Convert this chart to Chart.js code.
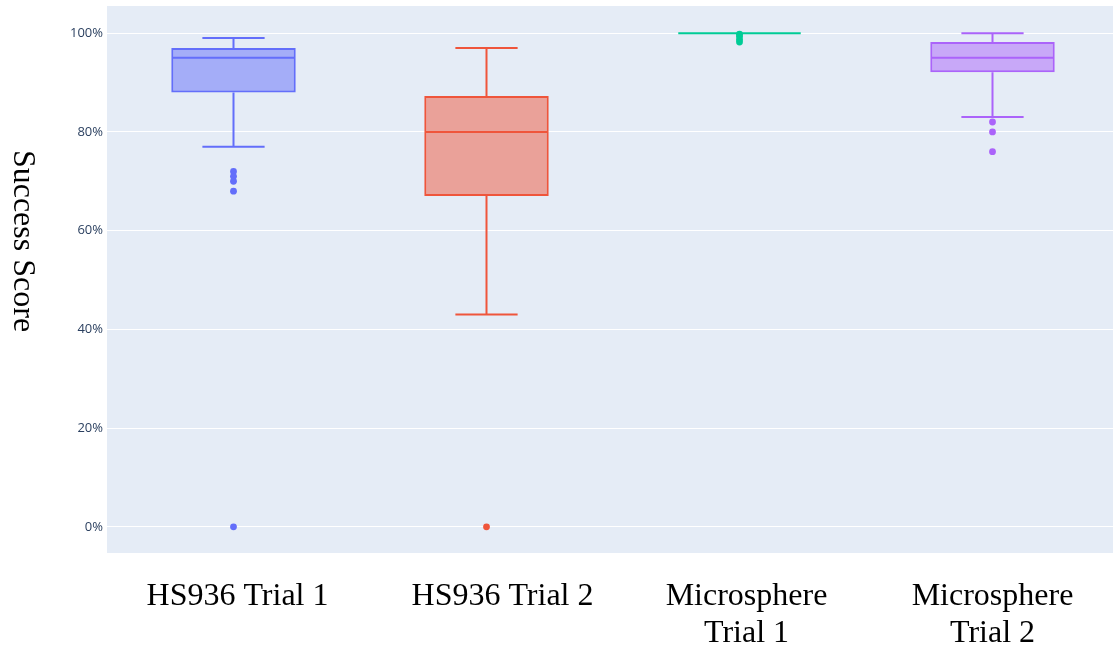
<!DOCTYPE html>
<html>
<head>
<meta charset="utf-8">
<title>Success Score by Trial</title>
<script src="https://cdn.jsdelivr.net/npm/chart.js@4/dist/chart.umd.min.js"></script>
<style>
  html, body { margin: 0; padding: 0; background: #ffffff; overflow: hidden; }
  #wrap { width: 1113px; height: 650px; overflow: hidden; }
  #chart { display: block; }
</style>
</head>
<body>
<div id="wrap"><canvas id="chart" width="1119" height="650"></canvas></div>
<script>
// Trials and their box statistics (Success Score, %)
const categories = ['HS936 Trial 1', 'HS936 Trial 2', 'Microsphere Trial 1', 'Microsphere Trial 2'];
const tickLabels = [['HS936 Trial 1'], ['HS936 Trial 2'], ['Microsphere', 'Trial 1'], ['Microsphere', 'Trial 2']];
const lowerFence = [77, 43, 100, 83];
const q1 = [88, 67, 100, 92.1];
const medians = [95, 80, 100, 95];
const q3 = [97, 87.25, 100, 98.2];
const upperFence = [99, 97, 100, 100];
const outliers = [
  [72, 71, 70, 68, 0],
  [0],
  [99.8, 99.3, 98.7, 98.2],
  [82, 80, 76]
];
const yTicks = [0, 20, 40, 60, 80, 100];
const yTitle = 'Success Score';

const lineColors = ['#636efa', '#EF553B', '#00cc96', '#ab63fa'];
const fillColors = ['rgba(99,110,250,0.5)', 'rgba(239,85,59,0.5)', 'rgba(0,204,150,0.5)', 'rgba(171,99,250,0.5)'];
// small horizontal nudges of the category captions (px)
const captionNudge = [4, 16, 7, 0];
const serifFont = '"Liberation Serif", "Times New Roman", serif';

// Plot background
const plotBackground = {
  id: 'plotBackground',
  beforeDraw(chart) {
    const { ctx, chartArea: a } = chart;
    ctx.save();
    ctx.fillStyle = '#E5ECF6';
    ctx.fillRect(a.left, a.top, a.right - a.left, a.bottom - a.top);
    ctx.restore();
  }
};

// Whiskers, caps and median lines, drawn right after the boxes
const boxDetails = {
  id: 'boxDetails',
  afterDatasetDraw(chart, args) {
    if (args.index !== 0) return;
    const { ctx } = chart;
    const x = chart.scales.x, y = chart.scales.y;
    const bars = chart.getDatasetMeta(0).data;
    ctx.save();
    ctx.lineWidth = 2;
    ctx.lineCap = 'butt';
    categories.forEach((c, i) => {
      const cx = x.getPixelForValue(i);
      const half = bars[i].width / 2;
      const capHalf = half / 2;
      ctx.strokeStyle = lineColors[i];
      ctx.beginPath();
      // upper whisker + cap
      ctx.moveTo(cx, y.getPixelForValue(q3[i]));
      ctx.lineTo(cx, y.getPixelForValue(upperFence[i]));
      ctx.moveTo(cx - capHalf, y.getPixelForValue(upperFence[i]));
      ctx.lineTo(cx + capHalf, y.getPixelForValue(upperFence[i]));
      // lower whisker + cap
      ctx.moveTo(cx, y.getPixelForValue(q1[i]));
      ctx.lineTo(cx, y.getPixelForValue(lowerFence[i]));
      ctx.moveTo(cx - capHalf, y.getPixelForValue(lowerFence[i]));
      ctx.lineTo(cx + capHalf, y.getPixelForValue(lowerFence[i]));
      // median
      ctx.moveTo(cx - half + 1, y.getPixelForValue(medians[i]));
      ctx.lineTo(cx + half - 1, y.getPixelForValue(medians[i]));
      ctx.stroke();
    });
    ctx.restore();
  }
};

// Category captions under the plot and the vertical axis title
const captions = {
  id: 'captions',
  afterDraw(chart) {
    const { ctx } = chart;
    const x = chart.scales.x;
    ctx.save();
    ctx.font = '32px ' + serifFont;
    ctx.fillStyle = '#000000';
    ctx.textAlign = 'center';
    ctx.textBaseline = 'alphabetic';
    tickLabels.forEach((lines, i) => {
      const cx = x.getPixelForValue(i) + captionNudge[i];
      lines.forEach((line, k) => {
        ctx.fillText(line, cx, x.top + 52 + k * 36.5);
      });
    });
    ctx.restore();

    ctx.save();
    ctx.translate(22, 241);
    ctx.rotate(Math.PI / 2);
    ctx.font = '32px ' + serifFont;
    ctx.fillStyle = '#000000';
    ctx.textAlign = 'center';
    ctx.textBaseline = 'middle';
    ctx.fillText(yTitle, 0, 0);
    ctx.restore();
  }
};

const outlierSets = outliers.map((vals, i) => ({
  type: 'line',
  order: 0,
  showLine: false,
  data: vals.map(v => ({ x: categories[i], y: v })),
  pointRadius: 3.4,
  pointHoverRadius: 3.4,
  pointBorderWidth: 0,
  pointBackgroundColor: lineColors[i],
  borderColor: lineColors[i]
}));

new Chart(document.getElementById('chart'), {
  type: 'bar',
  data: {
    labels: categories,
    datasets: [
      {
        order: 1,
        data: categories.map((c, i) => [q1[i], q3[i]]),
        backgroundColor: fillColors,
        borderColor: lineColors,
        borderWidth: 2,
        borderSkipped: false,
        barPercentage: 0.492,
        categoryPercentage: 1
      },
      ...outlierSets
    ]
  },
  options: {
    responsive: false,
    animation: false,
    events: [],
    layout: { autoPadding: false, padding: { top: 6, left: 0, right: 0, bottom: 0 } },
    plugins: {
      legend: { display: false },
      tooltip: { enabled: false }
    },
    scales: {
      x: {
        offset: true,
        grid: { display: false, drawTicks: false },
        border: { display: false },
        ticks: { display: false },
        afterFit(scale) {
          scale.height = 97;
          scale.paddingLeft = 0;
          scale.paddingRight = 0;
        }
      },
      y: {
        min: -5.3,
        max: 105.5,
        grid: { color: '#ffffff', lineWidth: 1, drawTicks: false },
        border: { display: false },
        ticks: {
          padding: 4,
          color: '#2a3f5f',
          font: { family: '"Open Sans", sans-serif', size: 13 },
          callback: v => v + '%'
        },
        afterBuildTicks(scale) { scale.ticks = yTicks.map(v => ({ value: v })); },
        afterFit(scale) {
          scale.width = 107;
          scale.paddingTop = 0;
          scale.paddingBottom = 0;
        }
      }
    }
  },
  plugins: [plotBackground, boxDetails, captions]
});
</script>
</body>
</html>
